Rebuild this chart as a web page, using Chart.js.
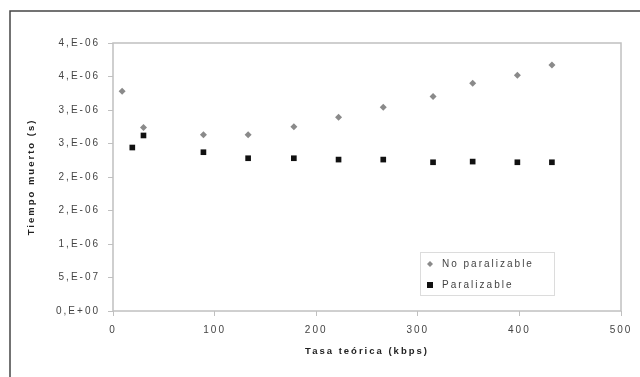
<!DOCTYPE html>
<html>
<head>
<meta charset="utf-8">
<script src="https://cdn.jsdelivr.net/npm/chart.js@4"></script>
<style>
  html, body { margin: 0; padding: 0; background: #ffffff; }
  #wrap { width: 640px; height: 377px; }
</style>
</head>
<body>
<div id="wrap"><canvas id="chart" width="640" height="377"></canvas></div>
<script>
// data
const tasaNoParal = [9, 30, 89, 133, 178, 222, 266, 315, 354, 398, 432]
const tiempoNoParal = [3.28e-6, 2.74e-6, 2.63e-6, 2.63e-6, 2.75e-6, 2.89e-6, 3.04e-6, 3.20e-6, 3.40e-6, 3.52e-6, 3.67e-6]
const tasaParal = [19, 30, 89, 133, 178, 222, 266, 315, 354, 398, 432]
const tiempoParal = [2.44e-6, 2.62e-6, 2.37e-6, 2.28e-6, 2.28e-6, 2.26e-6, 2.26e-6, 2.22e-6, 2.23e-6, 2.22e-6, 2.22e-6]
const yTickLabels = ['0,E+00', '5,E-07', '1,E-06', '2,E-06', '2,E-06', '3,E-06', '3,E-06', '4,E-06', '4,E-06']
const seriesNames = ['No paralizable', 'Paralizable']

const FONT = '"Liberation Sans", Arial, sans-serif'
const axisGray = '#c0c0c0'

const toPoints = (xs, ys) => xs.map((x, i) => ({ x, y: ys[i] }))

const framePlugin = {
  id: 'frame',
  beforeDraw(chart) {
    chart.ctx.letterSpacing = '2px'
  },
  beforeDatasetsDraw(chart) {
    const { ctx, chartArea: a } = chart
    ctx.save()
    ctx.strokeStyle = axisGray
    ctx.lineWidth = 1.5
    ctx.strokeRect(a.left, a.top, a.right - a.left, a.bottom - a.top)
    ctx.restore()
  },
  afterDraw(chart) {
    const { ctx, chartArea: a } = chart
    ctx.save()
    // outer frame (top + left only)
    ctx.strokeStyle = '#454545'
    ctx.lineWidth = 1.5
    ctx.beginPath()
    ctx.moveTo(10, 377)
    ctx.lineTo(10, 11)
    ctx.lineTo(640, 11)
    ctx.stroke()

    // legend box
    const lx = a.right - 201
    const ly = a.bottom - 59
    ctx.strokeStyle = '#b8b8b8'
    ctx.lineWidth = 1
    ctx.setLineDash([1, 1])
    ctx.strokeRect(lx + 0.5, ly + 0.5, 134, 43)
    ctx.setLineDash([])

    ctx.font = '10px ' + FONT
    ctx.fillStyle = '#444'
    ctx.textAlign = 'left'
    ctx.textBaseline = 'middle'
    ctx.letterSpacing = '2px'

    // diamond
    const dx = lx + 10, dy = ly + 12
    ctx.fillStyle = '#8a8a8a'
    ctx.beginPath()
    ctx.moveTo(dx, dy - 3); ctx.lineTo(dx + 3, dy); ctx.lineTo(dx, dy + 3); ctx.lineTo(dx - 3, dy)
    ctx.closePath(); ctx.fill()
    ctx.fillStyle = '#444'
    ctx.fillText(seriesNames[0], lx + 22, dy)

    // square
    const sx = lx + 10, sy = ly + 33
    ctx.fillStyle = '#111'
    ctx.fillRect(sx - 3, sy - 3, 6, 6)
    ctx.fillStyle = '#444'
    ctx.fillText(seriesNames[1], lx + 22, sy)
    ctx.restore()
  }
}

new Chart(document.getElementById('chart'), {
  type: 'scatter',
  data: {
    datasets: [
      {
        label: seriesNames[0],
        data: toPoints(tasaNoParal, tiempoNoParal),
        pointStyle: 'rectRot',
        radius: 3.5,
        backgroundColor: '#8a8a8a',
        borderColor: '#8a8a8a',
        borderWidth: 0,
      },
      {
        label: seriesNames[1],
        data: toPoints(tasaParal, tiempoParal),
        pointStyle: 'rect',
        radius: 4,
        backgroundColor: '#111',
        borderColor: '#111',
        borderWidth: 0,
      },
    ],
  },
  options: {
    responsive: false,
    animation: false,
    layout: { padding: { left: 20, top: 43, right: 19, bottom: 20 } },
    plugins: { legend: { display: false }, tooltip: { enabled: false } },
    scales: {
      x: {
        type: 'linear',
        min: 0,
        max: 500,
        afterFit(scale) { scale.height = 46 },
        ticks: {
          stepSize: 100,
          padding: 8,
          maxRotation: 0,
          color: '#444',
          font: { family: FONT, size: 10 },
        },
        grid: { drawOnChartArea: false, tickLength: 5, color: axisGray, lineWidth: 1 },
        border: { display: false },
        title: {
          display: true,
          text: 'Tasa teórica (kbps)',
          color: '#222',
          padding: { top: 0, bottom: 0 },
          font: { family: FONT, size: 9.5, weight: 'bold' },
        },
      },
      y: {
        type: 'linear',
        min: 0,
        max: 4e-6,
        afterFit(scale) { scale.width = 93 },
        ticks: {
          stepSize: 5e-7,
          padding: 8,
          color: '#444',
          font: { family: FONT, size: 10 },
          callback: (v) => yTickLabels[Math.round(v / 5e-7)],
        },
        grid: { drawOnChartArea: false, tickLength: 5, color: axisGray, lineWidth: 1 },
        border: { display: false },
        title: {
          display: true,
          text: 'Tiempo muerto (s)',
          color: '#222',
          padding: { top: 6, bottom: 0 },
          font: { family: FONT, size: 9.5, weight: 'bold' },
        },
      },
    },
  },
  plugins: [framePlugin],
})
</script>
</body>
</html>
